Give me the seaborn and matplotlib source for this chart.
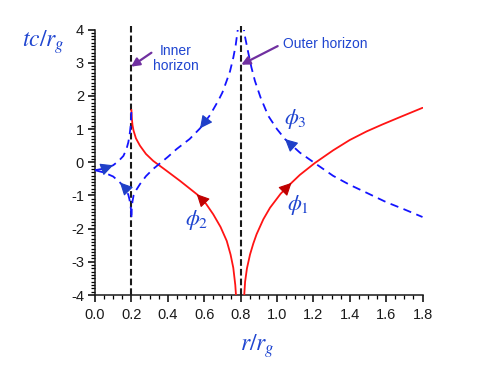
import numpy as np
import pandas as pd
import seaborn as sns
import matplotlib
matplotlib.use("Agg")
import matplotlib.pyplot as plt
from matplotlib.ticker import FormatStrFormatter

sns.set_theme(style="ticks")
plt.rcParams["font.family"] = ["Liberation Sans", "DejaVu Sans"]
plt.rcParams["mathtext.fontset"] = "stix"
plt.rcParams["lines.scale_dashes"] = False
plt.rcParams["axes.unicode_minus"] = False

# ---------------- data ----------------
# phi_1 : outgoing red curve outside the outer horizon
phi1_r = [0.819, 0.825, 0.835, 0.852, 0.870, 0.888, 0.925, 0.962, 1.020, 1.080,
          1.126, 1.209, 1.309, 1.400, 1.493, 1.580, 1.676, 1.800]
phi1_t = [-4.10, -3.60, -3.20, -2.78, -2.45, -2.17, -1.72, -1.37, -0.95, -0.62,
          -0.38, -0.02, 0.36, 0.67, 0.93, 1.14, 1.36, 1.64]

# phi_2 : red curve between the horizons
phi2_r = [0.200, 0.202, 0.206, 0.212, 0.225, 0.247, 0.280, 0.320, 0.394, 0.467,
          0.559, 0.610, 0.650, 0.690, 0.724, 0.745, 0.760, 0.771, 0.776]
phi2_t = [1.58, 1.35, 1.12, 0.95, 0.72, 0.50, 0.25, 0.04, -0.26, -0.56,
          -0.96, -1.25, -1.57, -1.95, -2.37, -2.78, -3.18, -3.70, -4.10]

# phi_3 : blue dashed curve, right branch (outside outer horizon)
phi3_out_r = [0.814, 0.822, 0.842, 0.860, 0.879, 0.910, 0.952, 1.000, 1.044, 1.126,
              1.209, 1.309, 1.400, 1.493, 1.600, 1.700, 1.800]
phi3_out_t = [4.20, 3.85, 3.31, 2.85, 2.45, 1.95, 1.40, 1.00, 0.70, 0.29,
              -0.03, -0.41, -0.68, -0.92, -1.20, -1.42, -1.65]

# phi_3 : blue dashed curve, middle branch (between horizons)
phi3_mid_r = [0.200, 0.202, 0.206, 0.212, 0.225, 0.247, 0.280, 0.320, 0.360, 0.400,
              0.449, 0.520, 0.577, 0.632, 0.678, 0.700, 0.724, 0.742, 0.760, 0.773,
              0.784, 0.790]
phi3_mid_t = [-1.65, -1.40, -1.18, -1.00, -0.85, -0.66, -0.42, -0.20, -0.02, 0.16,
              0.40, 0.70, 1.02, 1.42, 1.86, 2.10, 2.46, 2.74, 3.15, 3.52,
              3.97, 4.20]

# phi_3 : blue dashed, inside the inner horizon (upper and lower branches)
phi3_up_r = [0.000, 0.050, 0.100, 0.130, 0.156, 0.172, 0.183, 0.190, 0.196, 0.199, 0.200]
phi3_up_t = [-0.24, -0.19, -0.09, 0.04, 0.19, 0.38, 0.60, 0.82, 1.10, 1.35, 1.60]
phi3_lo_r = [0.000, 0.050, 0.100, 0.137, 0.160, 0.174, 0.183, 0.189, 0.195, 0.199, 0.200]
phi3_lo_t = [-0.24, -0.31, -0.43, -0.61, -0.74, -0.86, -0.98, -1.11, -1.30, -1.50, -1.65]

inner_r = 0.2
outer_r = 0.8

x_ticks = [0.0, 0.2, 0.4, 0.6, 0.8, 1.0, 1.2, 1.4, 1.6, 1.8]
y_ticks = [-4, -3, -2, -1, 0, 1, 2, 3, 4]
x_minor_step = 0.05
y_minor_step = 0.1

# ---------------- style ----------------
RED = "#ff1414"
RED_HEAD = "#c00000"
BLUE = "#1414ff"
BLUE_HEAD = "#1f3fc8"
TXT_BLUE = "#1f45d0"
PURPLE = "#7030a0"

fig = plt.figure(figsize=(4.91, 3.73), dpi=100)
ax = fig.add_axes([0.1935, 0.2091, 0.667, 0.7118])

curves = [
    ("phi1", phi1_r, phi1_t, RED, None),
    ("phi2", phi2_r, phi2_t, RED, None),
    ("phi3_out", phi3_out_r, phi3_out_t, BLUE, (6.0, 4.0)),
    ("phi3_mid", phi3_mid_r, phi3_mid_t, BLUE, (6.0, 4.0)),
    ("phi3_up", phi3_up_r, phi3_up_t, BLUE, (6.0, 4.0)),
    ("phi3_lo", phi3_lo_r, phi3_lo_t, BLUE, (6.0, 4.0)),
]
data = {}
for name, r, t, col, dash in curves:
    df = pd.DataFrame({"r": r, "t": t})
    data[name] = df
    sns.lineplot(data=df, x="r", y="t", ax=ax, sort=False, estimator=None,
                 color=col, lw=1.3, zorder=3)
    if dash is not None:
        ax.lines[-1].set_dashes(dash)

# horizons
for xv in (inner_r, outer_r):
    ln = ax.axvline(xv, ymin=0, ymax=1.015, color="#1a1a1a", lw=1.5, zorder=2,
                    clip_on=False)
    ln.set_dashes((4.8, 2.2))

# direction arrowheads on curves: (curve, index, step)  step>0 -> towards larger index
arrow_spec = [("phi1", 9, 1, RED_HEAD), ("phi2", 10, -1, RED_HEAD),
              ("phi3_out", 8, -1, BLUE_HEAD), ("phi3_mid", 12, -1, BLUE_HEAD),
              ("phi3_up", 2, 1, BLUE_HEAD), ("phi3_lo", 3, -1, BLUE_HEAD)]
for name, i, step, col in arrow_spec:
    df = data[name]
    x1, y1 = df["r"].iloc[i], df["t"].iloc[i]
    x0, y0 = df["r"].iloc[i - step], df["t"].iloc[i - step]
    ax.annotate("", xy=(x1, y1), xytext=(x1 - (x1 - x0) * 0.2, y1 - (y1 - y0) * 0.2),
                arrowprops=dict(arrowstyle="-|>,head_length=0.7,head_width=0.35",
                                color=col, lw=0.8, shrinkA=0, shrinkB=0,
                                mutation_scale=11), zorder=5)

ax.set_xlim(0, 1.8)
ax.set_ylim(-4, 4)
ax.set_xticks(x_ticks)
ax.set_yticks(y_ticks)
ax.set_xticks(np.arange(0, 1.8 + 1e-9, x_minor_step), minor=True)
ax.set_yticks(np.arange(-4, 4 + 1e-9, y_minor_step), minor=True)
ax.xaxis.set_major_formatter(FormatStrFormatter("%.1f"))
ax.tick_params(which="major", direction="out", length=5, width=1.1,
               labelsize=10.5, color="black", labelcolor="#1a1a1a", pad=3)
ax.tick_params(which="minor", direction="out", length=3.2, width=0.9, color="black")
ax.tick_params(axis="x", which="major", pad=4)
for s in ("top", "right"):
    ax.spines[s].set_visible(False)
for s in ("left", "bottom"):
    ax.spines[s].set_linewidth(1.1)
    ax.spines[s].set_color("#1a1a1a")
ax.set_xlabel("")
ax.set_ylabel("")

fig.text(0.088, 0.887, r"$tc/r_g$", color=TXT_BLUE, fontsize=17, ha="center", va="center")
fig.text(0.524, 0.073, r"$r/r_g$", color=TXT_BLUE, fontsize=17, ha="center", va="center")

# curve labels
ax.text(1.117, -1.29, r"$\phi_1$", color=TXT_BLUE, fontsize=16, ha="center", va="center")
ax.text(0.559, -1.75, r"$\phi_2$", color=TXT_BLUE, fontsize=16, ha="center", va="center")
ax.text(1.099, 1.30, r"$\phi_3$", color=TXT_BLUE, fontsize=16, ha="center", va="center")

# horizon annotations
ax.annotate("", xy=(0.198, 2.88), xytext=(0.31, 3.30),
            arrowprops=dict(arrowstyle="-|>,head_length=0.5,head_width=0.25",
                            color=PURPLE, lw=1.6, shrinkA=0, shrinkB=0, mutation_scale=10))
ax.text(0.445, 3.12, "Inner\nhorizon", color=TXT_BLUE, fontsize=10, ha="center",
        va="center", linespacing=1.05)
ax.annotate("", xy=(0.804, 2.94), xytext=(1.004, 3.50),
            arrowprops=dict(arrowstyle="-|>,head_length=0.5,head_width=0.25",
                            color=PURPLE, lw=1.6, shrinkA=0, shrinkB=0, mutation_scale=10))
ax.text(1.035, 3.57, "Outer horizon", color=TXT_BLUE, fontsize=10, ha="left", va="center")

fig.savefig("out.png", dpi=100)
